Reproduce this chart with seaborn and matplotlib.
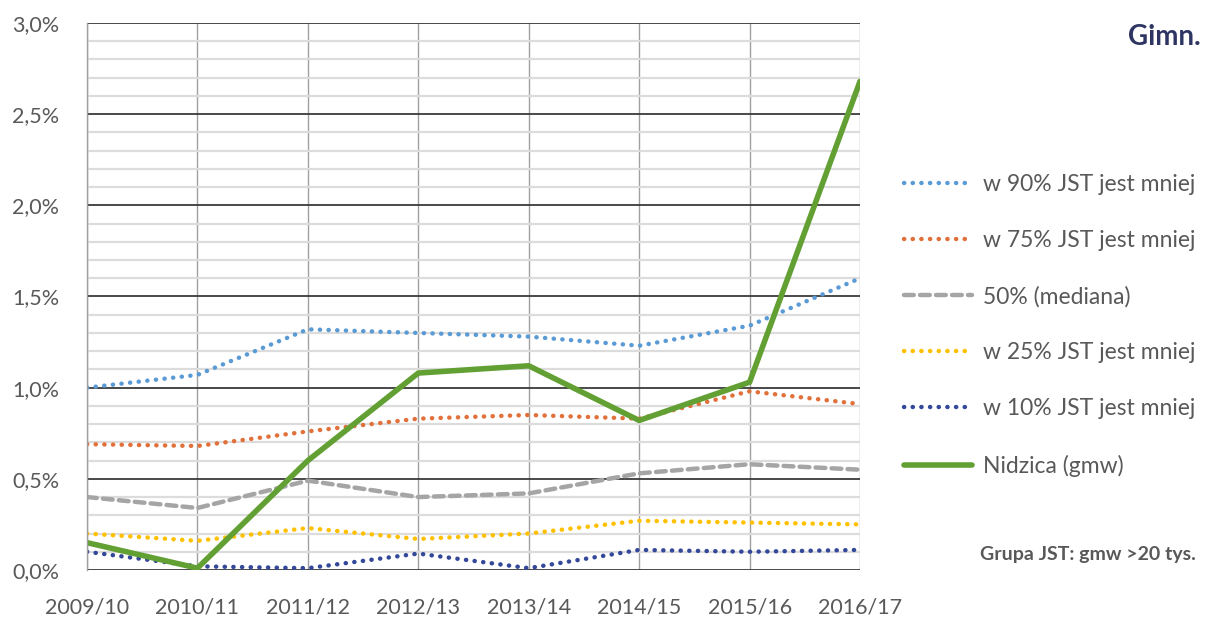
import matplotlib
matplotlib.use("Agg")
import matplotlib.pyplot as plt
import matplotlib.ticker as mticker
import seaborn as sns
import pandas as pd

# Data (percent values)
years = ["2009/10", "2010/11", "2011/12", "2012/13", "2013/14", "2014/15", "2015/16", "2016/17"]
p90 = [1.00, 1.07, 1.32, 1.30, 1.28, 1.23, 1.34, 1.60]
p75 = [0.69, 0.68, 0.76, 0.83, 0.85, 0.83, 0.98, 0.91]
p50 = [0.40, 0.34, 0.49, 0.40, 0.42, 0.53, 0.58, 0.55]
p25 = [0.20, 0.16, 0.23, 0.17, 0.20, 0.27, 0.26, 0.25]
p10 = [0.10, 0.02, 0.01, 0.09, 0.01, 0.11, 0.10, 0.11]
nidzica = [0.15, 0.01, 0.60, 1.08, 1.12, 0.82, 1.03, 2.68]

series = [
    ("w 90% JST jest mniej", p90, "#5B9BD5", (0, (0.05, 1.9))),
    ("w 75% JST jest mniej", p75, "#E2703A", (0, (0.05, 1.9))),
    ("50% (mediana)", p50, "#A5A5A5", (0, (2.2, 1.4))),
    ("w 25% JST jest mniej", p25, "#FFC000", (0, (0.05, 1.9))),
    ("w 10% JST jest mniej", p10, "#34489A", (0, (0.05, 1.9))),
    ("Nidzica (gmw)", nidzica, "#62A034", "-"),
]

sns.set_theme(style="white")
plt.rcParams["font.family"] = ["Lato", "DejaVu Sans"]

fig = plt.figure(figsize=(12.13, 6.18), dpi=100)
ax = fig.add_axes([0.0717, 0.0777, 0.6373, 0.8851])

for name, vals, color, ls in series:
    df = pd.DataFrame({"rok": years, "val": vals})
    lw = 4 if ls == "-" else 3.2
    sns.lineplot(data=df, x="rok", y="val", ax=ax, color=color, linestyle=ls,
                 linewidth=lw, label=name, dash_capstyle="round", sort=False)

ax.set_ylim(0, 3.0)
ax.set_xlim(0, len(years) - 1)
ax.yaxis.set_major_locator(mticker.MultipleLocator(0.5))
ax.yaxis.set_minor_locator(mticker.MultipleLocator(0.1))
ax.yaxis.set_major_formatter(mticker.FuncFormatter(lambda v, p: f"{v:.1f}%".replace(".", ",")))

ax.grid(which="minor", axis="y", color="#DCDCDC", linewidth=1.6, zorder=0)
ax.grid(which="major", axis="y", color="#3A3A3A", linewidth=1.3, zorder=0)
ax.grid(which="major", axis="x", color="#A0A0A0", linewidth=1.0, zorder=0)
ax.set_axisbelow(True)

for s in ["top", "right", "bottom"]:
    ax.spines[s].set_visible(False)
ax.spines["left"].set_color("#A0A0A0")
ax.spines["left"].set_linewidth(1.0)

ax.tick_params(axis="both", which="both", length=0, labelsize=15.5, colors="#595959")
ax.tick_params(axis="y", pad=20)
ax.tick_params(axis="x", pad=20)
ax.set_xlabel("")
ax.set_ylabel("")

ax.legend(loc="center left", bbox_to_anchor=(0.745, 0.474), bbox_transform=fig.transFigure,
          frameon=False, fontsize=16.5, handlelength=3.0, handletextpad=0.45,
          labelspacing=1.53, borderaxespad=0, borderpad=0, labelcolor="#595959")

fig.text(0.99, 0.94, "Gimn.", ha="right", va="center", fontsize=20,
         fontweight="bold", color="#2F3563")
fig.text(0.986, 0.102, "Grupa JST: gmw >20 tys.", ha="right", va="center",
         fontsize=14, fontweight="bold", color="#595959")

plt.savefig("out.png", dpi=100)
